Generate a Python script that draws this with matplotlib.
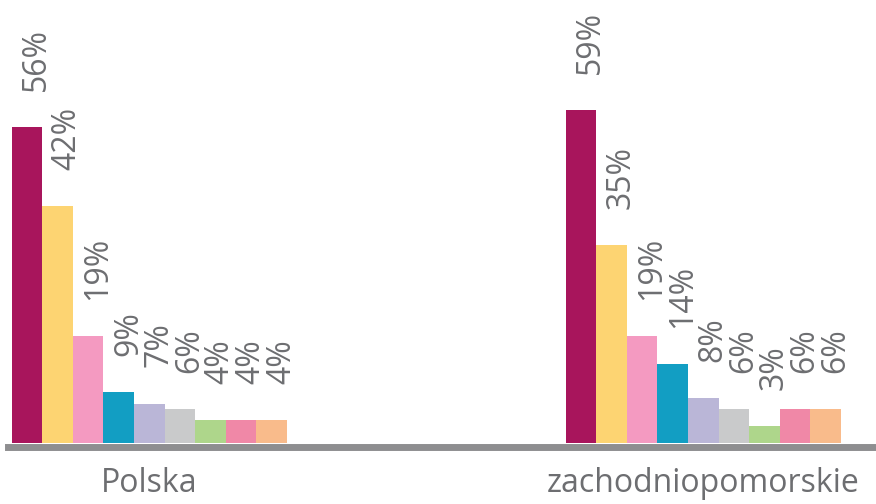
import matplotlib
matplotlib.use("Agg")
import matplotlib.pyplot as plt
from matplotlib.lines import Line2D

plt.rcParams["font.family"] = ["Open Sans", "DejaVu Sans"]

groups = ["Polska", "zachodniopomorskie"]
polska = [56, 42, 19, 9, 7, 6, 4, 4, 4]
zachodniopomorskie = [59, 35, 19, 14, 8, 6, 3, 6, 6]
colors = ["#A8155C", "#FDD472", "#F49AC1", "#129EC3", "#BAB6D7",
          "#C9CACB", "#AED68B", "#F088A7", "#F9BB8B"]

TEXT = "#6D6E71"
group_start = [0, 18.1]

fig = plt.figure(figsize=(8.76, 5.04), dpi=100)
ax = fig.add_axes([0, 0.121, 1, 0.879])

for start, name, vals in zip(group_start, groups, [polska, zachodniopomorskie]):
    xs = [start + i for i in range(len(vals))]
    ax.bar(xs, vals, width=1.0, color=colors, linewidth=0)
    for x, v in zip(xs, vals):
        ax.annotate("{}%".format(v), (x, v), xytext=(7, 26),
                    textcoords="offset points", rotation=90,
                    ha="center", va="bottom", fontsize=23, color=TEXT)
    ax.annotate(name, (start + (len(vals) - 1) / 2, 0),
                xycoords=("data", "axes fraction"), xytext=(0, -29),
                textcoords="offset points", ha="center", va="center",
                fontsize=23, color=TEXT)

ax.set_xlim(-0.882, 27.745)
ax.set_ylim(0, 78.5)
ax.axis("off")

fig.add_artist(Line2D([8 / 876, 1], [0.114, 0.114], color="#8E8E90",
                      linewidth=5, transform=fig.transFigure))

fig.savefig("out.png", dpi=100)
